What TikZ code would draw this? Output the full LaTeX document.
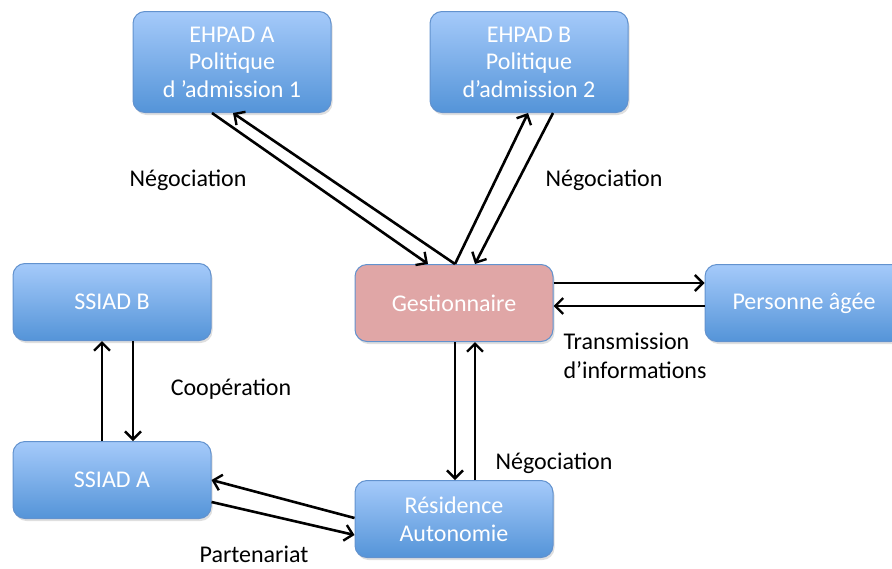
\documentclass[tikz,border=0pt]{standalone}
\usepackage{fontspec}
\setmainfont{Carlito}
\usepackage{tikz}
\usetikzlibrary{arrows.meta}
\usetikzlibrary{shadows}
\definecolor{boitehaut}{RGB}{165,202,250}
\definecolor{boitebas}{RGB}{84,148,216}
\definecolor{boitebord}{RGB}{98,146,206}
\definecolor{gestrose}{RGB}{224,166,166}
\tikzset{
	>={Straight Barb[length=8pt,width=16pt,line width=2.4pt]},
	boite/.style={
		rectangle,
		rounded corners=12pt,
		draw=boitebord, line width=1pt,
		minimum width=198pt,
		minimum height=77pt,
		text=white,
		align=center,
		drop shadow={opacity=0.25,shadow xshift=1.5pt,shadow yshift=-2.5pt}},
	etab/.style={
		boite,
		top color=boitehaut,
		bottom color=boitebas},
	gestbox/.style={
		boite,
		fill=gestrose},
	lien/.style={draw, line width=2.6pt, ->},
	etiquette/.style={font=\fontsize{24}{29}\selectfont, align=left},
}

\begin{document}
\begin{tikzpicture}
		[x=1pt,y=-1pt,font=\fontsize{24}{27.5}\selectfont]
		\clip (0,0) rectangle (892,568);
		\useasboundingbox (0,0) rectangle (892,568);
		% etablissements
		\node[etab, minimum height=101pt] (ehpadA) at (232,62) {EHPAD A\\Politique\\d ’admission 1};
		\node[etab, minimum height=101pt] (ehpadB) at (529,62) {EHPAD B\\Politique\\d’admission 2};
		\node[etab] (ssiadB) at (112,302) {SSIAD B};
		\node[gestbox] (gest) at (454,303) {Gestionnaire};
		\node[etab] (personne) at (804,303) {Personne âgée};
		\node[etab] (ssiadA) at (112,480) {SSIAD A};
		\node[etab] (residence) at (454,519) {Résidence\\Autonomie};

		% fleches
		\draw[lien] ([xshift=-20pt]ehpadA.south) -- ([xshift=-26pt]gest.north);
		\draw[lien] ([xshift=1pt]gest.north) -- ([xshift=1pt]ehpadA.south);
		\draw[lien] ([xshift=1pt]gest.north) -- ([xshift=-1pt]ehpadB.south);
		\draw[lien] ([xshift=24pt]ehpadB.south) -- ([xshift=21pt]gest.north);
		\draw[lien] ([yshift=20pt]gest.east) -- ([yshift=20pt]personne.west);
		\draw[lien] ([yshift=-3pt]personne.west) -- ([yshift=-3pt]gest.east);
		\draw[lien] ([xshift=1pt]gest.south) -- ([xshift=1pt]residence.north);
		\draw[lien] ([xshift=21pt]residence.north) -- ([xshift=21pt]gest.south);
		\draw[lien] ([xshift=-10pt]ssiadA.north) -- ([xshift=-10pt]ssiadB.south);
		\draw[lien] ([xshift=21pt]ssiadB.south) -- ([xshift=21pt]ssiadA.north);
		\draw[lien] ([yshift=1pt]residence.west) -- (ssiadA.east);
		\draw[lien] ([yshift=-22pt]ssiadA.east) -- ([yshift=-16pt]residence.west);

		% etiquettes
		\node[etiquette] (negoA) at (188,180) {Négociation};
		\node[etiquette] (negoB) at (604,180) {Négociation};
		\node[etiquette] (coop) at (231,389) {Coopération};
		\node[etiquette, anchor=west] (trans) at (560,356) {Transmission\\d’informations};
		\node[etiquette] (negoC) at (554,463) {Négociation};
		\node[etiquette] (parte) at (254,554) {Partenariat};
\end{tikzpicture}
\end{document}
